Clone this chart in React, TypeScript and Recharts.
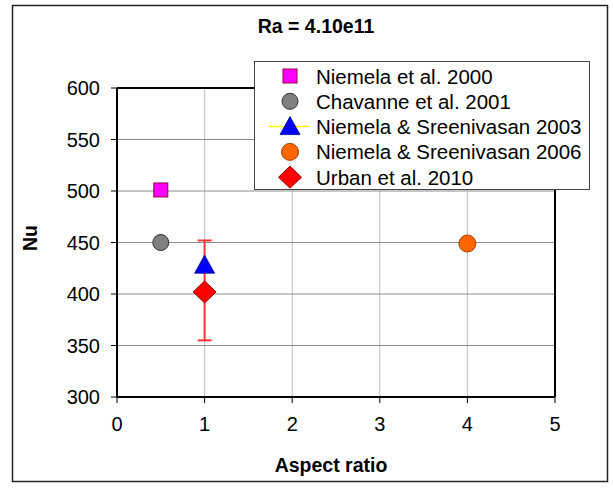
import React from 'react';
import {
    ScatterChart,
    Scatter,
    XAxis,
    YAxis,
    CartesianGrid,
    ReferenceLine,
    ErrorBar,
    Legend,
    Label,
} from 'recharts';

const FONT = 'Arial, "Liberation Sans", sans-serif';

// data (x = aspect ratio, y = Nu)
const niemela2000 = [{ x: 0.5, y: 501 }];
const chavanne2001 = [{ x: 0.5, y: 450 }];
const niemela2003 = [{ x: 1, y: 428 }];
const niemela2006 = [{ x: 4, y: 449 }];
const urban2010 = [{ x: 1, y: 402, err: [47, 50] }];

const xTicks = [0, 1, 2, 3, 4, 5];
const yTicks = [300, 350, 400, 450, 500, 550, 600];

const seriesNames = [
    'Niemela et al. 2000',
    'Chavanne et al. 2001',
    'Niemela & Sreenivasan 2003',
    'Niemela & Sreenivasan 2006',
    'Urban et al. 2010',
];

const SquareMark = ({ cx, cy }: any) => (
    <rect x={cx - 7} y={cy - 7} width={14} height={14} fill="#ff00ff" stroke="#99003d" strokeWidth={1} />
);
const GrayCircle = ({ cx, cy }: any) => <circle cx={cx} cy={cy} r={8} fill="#808080" stroke="#333" strokeWidth={1} />;
const BlueTriangle = ({ cx, cy }: any) => (
    <polygon points={`${cx},${cy - 10} ${cx + 10},${cy + 8} ${cx - 10},${cy + 8}`} fill="#0000ff" stroke="#000080" strokeWidth={0.8} />
);
const OrangeCircle = ({ cx, cy }: any) => <circle cx={cx} cy={cy} r={8.5} fill="#ff6600" stroke="#a04000" strokeWidth={1} />;
const RedDiamond = ({ cx, cy }: any) => (
    <polygon points={`${cx},${cy - 11} ${cx + 11.5},${cy} ${cx},${cy + 11} ${cx - 11.5},${cy}`} fill="#ff0000" stroke="#990000" strokeWidth={1} />
);

const legendMarks = [SquareMark, GrayCircle, BlueTriangle, OrangeCircle, RedDiamond];

const LegendBox = () => (
    <svg width={336} height={129} style={{ display: 'block', background: '#fff', border: '1px solid #444', boxSizing: 'border-box' }}>
        {seriesNames.map((name, i) => {
            const Mark = legendMarks[i];
            const cy = 14 + i * 25.3;
            return (
                <g key={name}>
                    {i === 2 && <line x1={14} x2={54} y1={cy} y2={cy} stroke="#ffff00" strokeWidth={1.5} />}
                    <Mark cx={35} cy={cy} />
                    <text x={61} y={cy + 7.5} fontSize={20.5} fontFamily={FONT} fill="#000">
                        {name}
                    </text>
                </g>
            );
        })}
    </svg>
);

export default function App() {
    return (
        <div style={{ position: 'relative', width: 613, height: 488, background: '#fff' }}>
            <style>{'body{margin:0}'}</style>
            <svg width={613} height={488} style={{ position: 'absolute', left: 0, top: 0 }}>
                <rect x={12.5} y={5.5} width={595} height={476} fill="none" stroke="#222" strokeWidth={1.5} />
                <text x={316} y={33} textAnchor="middle" fontSize={19.5} fontWeight="bold" fontFamily={FONT} fill="#000">
                    Ra = 4.10e11
                </text>
                <text
                    x={37}
                    y={238}
                    textAnchor="middle"
                    fontSize={19.5}
                    fontWeight="bold"
                    fontFamily={FONT}
                    fill="#000"
                    transform="rotate(-90 37 238)"
                >
                    Nu
                </text>
            </svg>
            <div style={{ position: 'absolute', left: 0, top: 0 }}>
                <ScatterChart width={613} height={488} margin={{ top: 88, right: 58, bottom: 61, left: 57 }}>
                    <CartesianGrid horizontal={false} stroke="#c0c0c0" strokeWidth={1} />
                    <CartesianGrid vertical={false} stroke="#8c8c8c" strokeWidth={1} />
                    <XAxis
                        type="number"
                        dataKey="x"
                        domain={[0, 5]}
                        ticks={xTicks}
                        allowDataOverflow
                        height={30}
                        axisLine={{ stroke: '#000', strokeWidth: 2 }}
                        tickLine={{ stroke: '#000' }}
                        tickSize={6}
                        tickMargin={14}
                        tick={{ fill: '#000', fontSize: 20, fontFamily: FONT }}
                    >
                        <Label
                            value="Aspect ratio"
                            position="bottom"
                            offset={31}
                            dx={-5}
                            style={{ fontSize: 19.5, fontWeight: 'bold', fontFamily: FONT, fill: '#000' }}
                        />
                    </XAxis>
                    <YAxis
                        type="number"
                        dataKey="y"
                        domain={[300, 600]}
                        ticks={yTicks}
                        allowDataOverflow
                        width={60}
                        axisLine={{ stroke: '#000', strokeWidth: 2 }}
                        tickLine={{ stroke: '#000' }}
                        tickSize={6}
                        tickMargin={11}
                        tick={{ fill: '#000', fontSize: 20, fontFamily: FONT }}
                    />
                    <ReferenceLine y={600} stroke="#000" strokeWidth={2} />
                    <ReferenceLine x={5} stroke="#000" strokeWidth={2} />
                    <Scatter name={seriesNames[0]} data={niemela2000} fill="#ff00ff" shape={SquareMark} isAnimationActive={false} />
                    <Scatter name={seriesNames[1]} data={chavanne2001} fill="#808080" shape={GrayCircle} isAnimationActive={false} />
                    <Scatter name={seriesNames[2]} data={niemela2003} fill="#0000ff" shape={BlueTriangle} isAnimationActive={false} />
                    <Scatter name={seriesNames[3]} data={niemela2006} fill="#ff6600" shape={OrangeCircle} isAnimationActive={false} />
                    <Scatter name={seriesNames[4]} data={urban2010} fill="#ff0000" shape={RedDiamond} isAnimationActive={false}>
                        <ErrorBar dataKey="err" direction="y" width={7} stroke="#ff3333" strokeWidth={2} isAnimationActive={false} />
                    </Scatter>
                    <Legend
                        layout="vertical"
                        align="center"
                        verticalAlign="middle"
                        content={() => <LegendBox />}
                        wrapperStyle={{ left: 254, top: 61, width: 336, height: 129 }}
                    />
                </ScatterChart>
            </div>
        </div>
    );
}
